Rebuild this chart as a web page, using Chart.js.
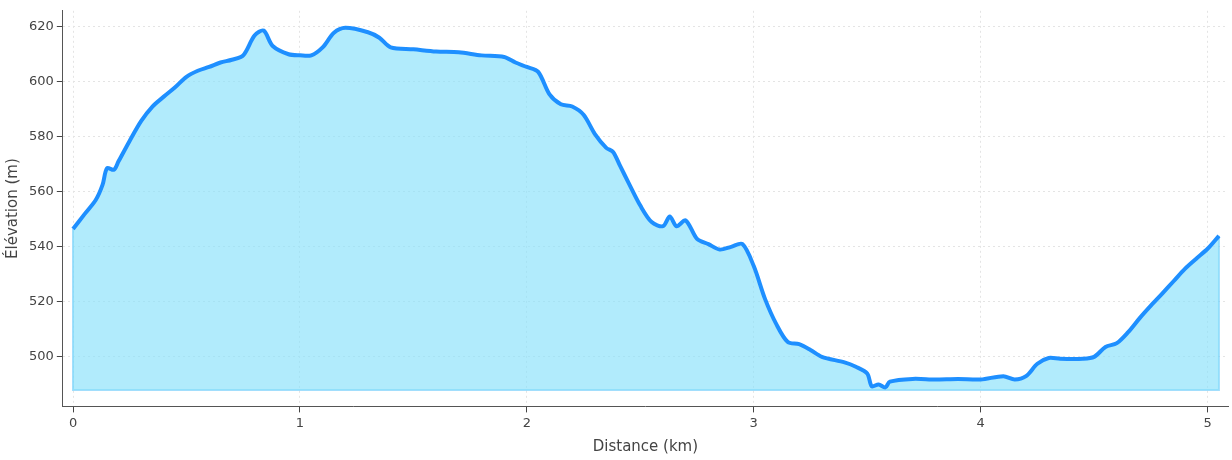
<!DOCTYPE html>
<html><head><meta charset="utf-8">
<script src="https://cdn.jsdelivr.net/npm/chart.js@4/dist/chart.umd.min.js"></script>
<style>body{margin:0;background:#fff}#w{width:1232px;height:460px}</style>
</head><body><div id="w"><canvas id="c"></canvas></div>
<script>
const distKm=[0,0.05,0.1,0.13,0.15,0.18,0.2,0.25,0.3,0.35,0.4,0.45,0.5,0.55,0.6,0.65,0.7,0.75,0.8,0.84,0.88,0.95,1.0,1.05,1.1,1.15,1.2,1.3,1.35,1.4,1.5,1.6,1.7,1.8,1.9,1.95,2.0,2.05,2.1,2.15,2.2,2.25,2.3,2.35,2.38,2.41,2.45,2.5,2.55,2.6,2.63,2.66,2.7,2.75,2.8,2.85,2.9,2.95,3.0,3.05,3.1,3.15,3.2,3.25,3.3,3.4,3.45,3.5,3.52,3.55,3.58,3.6,3.7,3.8,3.9,4.0,4.1,4.15,4.2,4.25,4.3,4.35,4.45,4.5,4.55,4.6,4.65,4.7,4.75,4.8,4.85,4.9,4.95,5.0,5.05];
const elevM=[546.5,551.8,557,562.5,568.6,568,571,578.6,585.7,591,594.6,598,601.8,604,605.4,607,608,609.6,616.8,618.6,613,610,609.6,609.6,612.5,617.8,619.6,618,616,612.5,611.8,611,610.7,609.6,609,607,605.4,603.6,595.4,591.8,591,588,581,576,574.5,569.6,563,555,549,547.5,551,547.5,549.6,542.9,541,539,540,541,533,521,511.8,505.4,504.6,502.5,500,498,496.4,494,489.3,490,488.9,491,492,491.8,492,491.8,493,491.8,493,497.5,499.6,499.3,499.3,500,503.6,505,509,514,518.6,523,527.5,532,535.7,539.3,544];
const fillBase=488;
const yTicks=[500,520,540,560,580,600,620];
const pts=distKm.map((d,i)=>({x:d,y:elevM[i]}));
new Chart(document.getElementById('c'),{type:'line',
data:{datasets:[
 {data:pts,borderColor:'#1e8fff',borderWidth:4,backgroundColor:'rgba(135,225,250,0.65)',fill:{value:fillBase},pointRadius:0,tension:0.3},
 {data:[{x:0,y:elevM[0]},{x:0,y:fillBase},{x:distKm[distKm.length-1],y:fillBase},{x:distKm[distKm.length-1],y:elevM[elevM.length-1]}],borderColor:'rgba(100,200,250,0.6)',borderWidth:2,pointRadius:0,fill:false}
]},
options:{responsive:true,maintainAspectRatio:false,animation:false,
 layout:{padding:{top:2,right:4}},
 plugins:{legend:{display:false},tooltip:{enabled:false}},
 scales:{
  x:{type:'linear',min:-0.045,max:5.09,afterBuildTicks:a=>{a.ticks=[0,1,2,3,4,5].map(v=>({value:v}))},
   title:{display:true,text:'Distance (km)',color:'#444',font:{family:'DejaVu Sans',size:15}},
   ticks:{color:'#444',font:{family:'DejaVu Sans',size:13}},
   grid:{color:'#e4e4e4',tickColor:'#444',tickLength:6,drawOnChartArea:true},border:{color:'#555',dash:[2,3]}},
  y:{min:482,max:625.8,afterBuildTicks:a=>{a.ticks=yTicks.map(v=>({value:v}))},
   title:{display:true,text:'Élévation (m)',color:'#444',font:{family:'DejaVu Sans',size:15}},
   ticks:{color:'#444',font:{family:'DejaVu Sans',size:13}},
   grid:{color:'#e4e4e4',tickColor:'#444',tickLength:6},border:{color:'#555',dash:[2,3]}}
 }}});
</script></body></html>
